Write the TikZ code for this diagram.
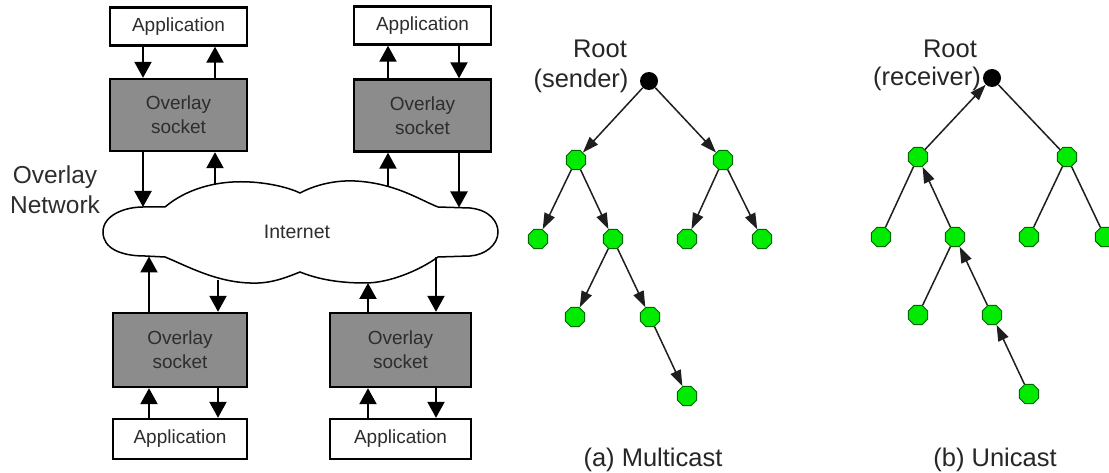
\documentclass[tikz,border=0pt]{standalone}
\usepackage{fontspec}
\setmainfont{Liberation Sans}
\usetikzlibrary{shapes.geometric,arrows.meta}
\definecolor{sockgray}{RGB}{140,140,140}
\definecolor{txtgray}{RGB}{45,45,45}
\definecolor{nodegreen}{RGB}{0,235,0}
\definecolor{edgegray}{RGB}{30,30,30}
\tikzset{
  appbox/.style={draw=black, line width=2.4pt, fill=white, minimum width=137pt, minimum height=38pt, inner sep=0pt, text=txtgray, font=\fontsize{19}{20}\selectfont},
  sockbox/.style={draw=black, line width=2.4pt, fill=sockgray, minimum width=137pt, minimum height=72pt, inner sep=0pt, align=center, text=txtgray, font=\fontsize{19}{24}\selectfont},
  barr/.style={line width=2.2pt, -{Triangle[length=16pt,width=17pt]}},
  tnode/.style={regular polygon, regular polygon sides=8, draw=black!60!green, line width=1pt, fill=nodegreen, minimum size=21pt, inner sep=0pt},
  rootnode/.style={circle, fill=black, minimum size=18pt, inner sep=0pt},
  tedge/.style={draw=edgegray, line width=1.5pt},
  tarr/.style={tedge, -{Triangle[length=16pt,width=11pt]}},
  lbl/.style={text=black!85, font=\fontsize{25.5}{28}\selectfont, inner sep=0pt},
}
\begin{document}
\begin{tikzpicture}[x=1pt,y=-1pt]
\useasboundingbox (0,0) rectangle (1109,473);
% cloud
\draw[line width=1.5pt, fill=white]
  (103,232) .. controls (103,215) and (125,207) .. (143,207)
  -- (165,207)
  .. controls (185,190) and (215,180) .. (250,182)
  .. controls (270,183) and (290,188) .. (300,193)
  .. controls (315,185) and (335,180) .. (355,181)
  .. controls (395,183) and (420,200) .. (438,207)
  -- (470,208)
  .. controls (490,210) and (498,222) .. (498,232)
  .. controls (498,245) and (485,255) .. (470,256)
  -- (438,257)
  .. controls (420,270) and (390,283) .. (365,283)
  .. controls (335,283) and (315,278) .. (300,272)
  .. controls (285,278) and (270,284) .. (250,283)
  .. controls (215,282) and (185,265) .. (165,257)
  -- (145,256)
  .. controls (120,256) and (103,248) .. (103,232) -- cycle;
\node[text=txtgray, font=\fontsize{19.5}{21}\selectfont] (inet) at (297,232) {Internet};
\coordinate (cA) at (143,207);
\coordinate (cB) at (215,184);
\coordinate (cC) at (388,187);
\coordinate (cD) at (459,207.5);
\coordinate (cE) at (149,256.5);
\coordinate (cF) at (218,280);
\coordinate (cG) at (368,283);
\coordinate (cH) at (436,257);
% boxes
\node[appbox] (appTL) at (178.5,26.5) {Application};
\node[sockbox] (sockTL) at (178.5,115) {Overlay\\socket};
\node[appbox] (appTR) at (422.5,25.5) {Application};
\node[sockbox] (sockTR) at (422.5,115.5) {Overlay\\socket};
\node[sockbox, minimum height=74pt, minimum width=134pt] (sockBL) at (180,350) {Overlay\\socket};
\node[appbox, minimum height=40pt, minimum width=134pt] (appBL) at (180,439) {Application};
\node[sockbox, minimum height=74pt, minimum width=141pt] (sockBR) at (400.5,350) {Overlay\\socket};
\node[appbox, minimum height=40pt, minimum width=141pt] (appBR) at (400.5,439) {Application};
% arrows top-left
\draw[barr] (appTL.south -| cA) -- (sockTL.north -| cA);
\draw[barr] (sockTL.north -| cB) -- (appTL.south -| cB);
\draw[barr] (sockTL.south -| cA) -- (cA);
\draw[barr] (cB) -- (sockTL.south -| cB);
% arrows top-right
\draw[barr] (sockTR.north -| cC) -- (appTR.south -| cC);
\draw[barr] (appTR.south -| cD) -- (sockTR.north -| cD);
\draw[barr] (cC) -- (sockTR.south -| cC);
\draw[barr] (sockTR.south -| cD) -- (cD);
% arrows bottom-left
\draw[barr] (sockBL.north -| cE) -- (cE);
\draw[barr] (cF) -- (sockBL.north -| cF);
\draw[barr] (appBL.north -| cE) -- (sockBL.south -| cE);
\draw[barr] (sockBL.south -| cF) -- (appBL.north -| cF);
% arrows bottom-right
\draw[barr] (sockBR.north -| cG) -- (cG);
\draw[barr] (cH) -- (sockBR.north -| cH);
\draw[barr] (appBR.north -| cG) -- (sockBR.south -| cG);
\draw[barr] (sockBR.south -| cH) -- (appBR.north -| cH);
% overlay network label
\node[text=txtgray, font=\fontsize{24.5}{30}\selectfont, align=center, inner sep=0pt] (ovl) at (55,190) {Overlay\\Network};
% tree (a)
\node[rootnode] (ar) at (649,81) {};
\node[tnode] (a1) at (576,160) {};
\node[tnode] (a2) at (723,160) {};
\node[tnode] (a3) at (538,239) {};
\node[tnode] (a4) at (613,239) {};
\node[tnode] (a5) at (687,239) {};
\node[tnode] (a6) at (762,239) {};
\node[tnode] (a7) at (575,317) {};
\node[tnode] (a8) at (650,317) {};
\node[tnode] (a9) at (687,396) {};
\draw[tarr] (ar) -- (a1);
\draw[tarr] (ar) -- (a2);
\draw[tarr] (a1) -- (a3);
\draw[tarr] (a1) -- (a4);
\draw[tarr] (a2) -- (a5);
\draw[tarr] (a2) -- (a6);
\draw[tarr] (a4) -- (a7);
\draw[tarr] (a4) -- (a8);
\draw[tarr] (a8) -- (a9);
\node[lbl] (arl1) at (600,49) {Root};
\node[lbl] (arl2) at (581,81) {(sender)};
\node[lbl] (acap) at (653,460) {(a) Multicast};
% tree (b)
\node[rootnode] (br) at (992,78) {};
\node[tnode] (b1) at (918,157) {};
\node[tnode] (b2) at (1067,157) {};
\node[tnode] (b3) at (881,237) {};
\node[tnode] (b4) at (955,237) {};
\node[tnode] (b5) at (1029,237) {};
\node[tnode] (b6) at (1105,237) {};
\node[tnode] (b7) at (918,315) {};
\node[tnode] (b8) at (992,315) {};
\node[tnode] (b9) at (1029,394) {};
\draw[tarr] (b1) -- (br);
\draw[tedge] (br) -- (b2);
\draw[tedge] (b1) -- (b3);
\draw[tarr] (b4) -- (b1);
\draw[tedge] (b2) -- (b5);
\draw[tedge] (b2) -- (b6);
\draw[tedge] (b4) -- (b7);
\draw[tarr] (b8) -- (b4);
\draw[tarr] (b9) -- (b8);
\node[lbl] (brl1) at (950,49) {Root};
\node[lbl] (brl2) at (927,79) {(receiver)};
\node[lbl] (bcap) at (995,460) {(b) Unicast};
\end{tikzpicture}
\end{document}
